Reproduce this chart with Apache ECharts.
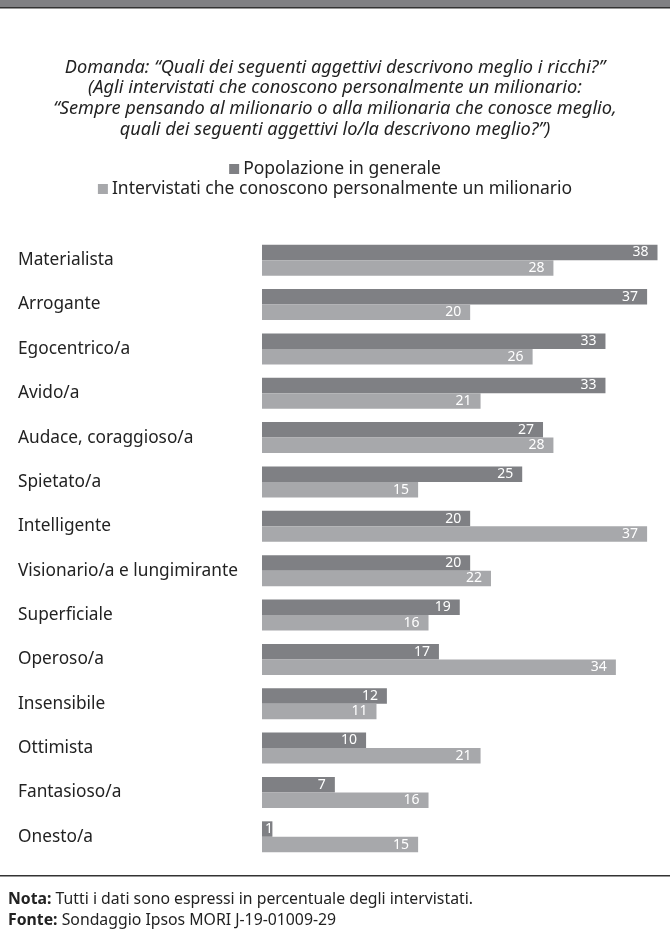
<!DOCTYPE html>
<html>
<head>
<meta charset="utf-8">
<script src="https://cdn.jsdelivr.net/npm/echarts@6/dist/echarts.min.js"></script>
<style>
  html, body { margin: 0; padding: 0; background: #fff; }
  #chart { width: 670px; height: 946px; }
</style>
</head>
<body>
<div id="chart"></div>
<script>
// Adjectives, listed top to bottom
const categories = [
  'Materialista', 'Arrogante', 'Egocentrico/a', 'Avido/a', 'Audace, coraggioso/a',
  'Spietato/a', 'Intelligente', 'Visionario/a e lungimirante', 'Superficiale',
  'Operoso/a', 'Insensibile', 'Ottimista', 'Fantasioso/a', 'Onesto/a'
];
// Percentages for the general population
const popolazione = [38, 37, 33, 33, 27, 25, 20, 20, 19, 17, 12, 10, 7, 1];
// Percentages for respondents who personally know a millionaire
const conoscono = [28, 20, 26, 21, 28, 15, 37, 22, 16, 34, 11, 21, 16, 15];

const seriesNames = ['Popolazione in generale', 'Intervistati che conoscono personalmente un milionario'];

const questionLines = [
  'Domanda: \u201cQuali dei seguenti aggettivi descrivono meglio i ricchi?\u201d',
  '(Agli intervistati che conoscono personalmente un milionario:',
  '\u201cSempre pensando al milionario o alla milionaria che conosce meglio,',
  'quali dei seguenti aggettivi lo/la descrivono meglio?\u201d)'
];

const FONT = '"Noto Sans", "Open Sans", sans-serif';
const DARK = '#7f8084';
const LIGHT = '#a7a8ab';
const TEXT = '#222222';

const chart = echarts.init(document.getElementById('chart'), null, { renderer: 'canvas' });

const valueLabel = {
  show: true,
  position: 'insideRight',
  distance: 9,
  color: '#ffffff',
  fontFamily: FONT,
  fontSize: 14
};

// Very short bars keep their value label inside, from the left edge
function withLabels(values) {
  return values.map(v => v < 3
    ? { value: v, label: { position: 'insideLeft', distance: 3 } }
    : v);
}

const legendText = { fontFamily: FONT, fontSize: 17.5, color: TEXT, padding: [0, 0, 0, -1] };

chart.setOption({
  backgroundColor: '#ffffff',
  animation: false,
  title: {
    text: questionLines.join('\n'),
    left: 335,
    top: 57,
    padding: 0,
    textAlign: 'center',
    textStyle: {
      fontFamily: FONT,
      fontStyle: 'italic',
      fontWeight: 'normal',
      fontSize: 18.2,
      lineHeight: 20.7,
      color: TEXT
    }
  },
  legend: [
    {
      data: [seriesNames[0]],
      left: 'center',
      top: 160,
      padding: 0,
      icon: 'rect',
      itemWidth: 10,
      itemHeight: 10,
      selectedMode: false,
      textStyle: legendText
    },
    {
      data: [seriesNames[1]],
      left: 'center',
      top: 180,
      padding: 0,
      icon: 'rect',
      itemWidth: 10,
      itemHeight: 10,
      selectedMode: false,
      textStyle: legendText
    }
  ],
  grid: { left: 262, right: 0, top: 238, bottom: 87, containLabel: false },
  xAxis: {
    type: 'value',
    min: 0,
    max: 39.2,
    show: false
  },
  yAxis: {
    type: 'category',
    data: categories,
    inverse: true,
    axisLine: { show: false },
    axisTick: { show: false },
    splitLine: { show: false },
    axisLabel: {
      align: 'left',
      margin: 244,
      fontFamily: FONT,
      fontSize: 17.3,
      color: TEXT,
      verticalAlign: 'middle'
    }
  },
  series: [
    {
      name: seriesNames[0],
      type: 'bar',
      data: withLabels(popolazione),
      barWidth: 15.5,
      barGap: '0%',
      itemStyle: { color: DARK },
      label: valueLabel
    },
    {
      name: seriesNames[1],
      type: 'bar',
      data: withLabels(conoscono),
      barWidth: 15.5,
      itemStyle: { color: LIGHT },
      label: valueLabel
    }
  ],
  graphic: [
    // header strip and rules
    { type: 'rect', shape: { x: 0, y: 0, width: 670, height: 7 }, style: { fill: '#808083' } },
    { type: 'rect', shape: { x: 0, y: 7, width: 670, height: 1.5 }, style: { fill: '#333333' } },
    { type: 'rect', shape: { x: 0, y: 875, width: 670, height: 1.5 }, style: { fill: '#333333' } },
    {
      type: 'text', left: 8, top: 891,
      style: {
        text: '{b|Nota:} Tutti i dati sono espressi in percentuale degli intervistati.',
        fontFamily: FONT, fontSize: 15.8, fill: TEXT,
        rich: { b: { fontWeight: 'bold', fontFamily: FONT, fontSize: 15.8, fill: TEXT } }
      }
    },
    {
      type: 'text', left: 8, top: 912,
      style: {
        text: '{b|Fonte:} Sondaggio Ipsos MORI J-19-01009-29',
        fontFamily: FONT, fontSize: 15.8, fill: TEXT,
        rich: { b: { fontWeight: 'bold', fontFamily: FONT, fontSize: 15.8, fill: TEXT } }
      }
    }
  ]
});
</script>
</body>
</html>
